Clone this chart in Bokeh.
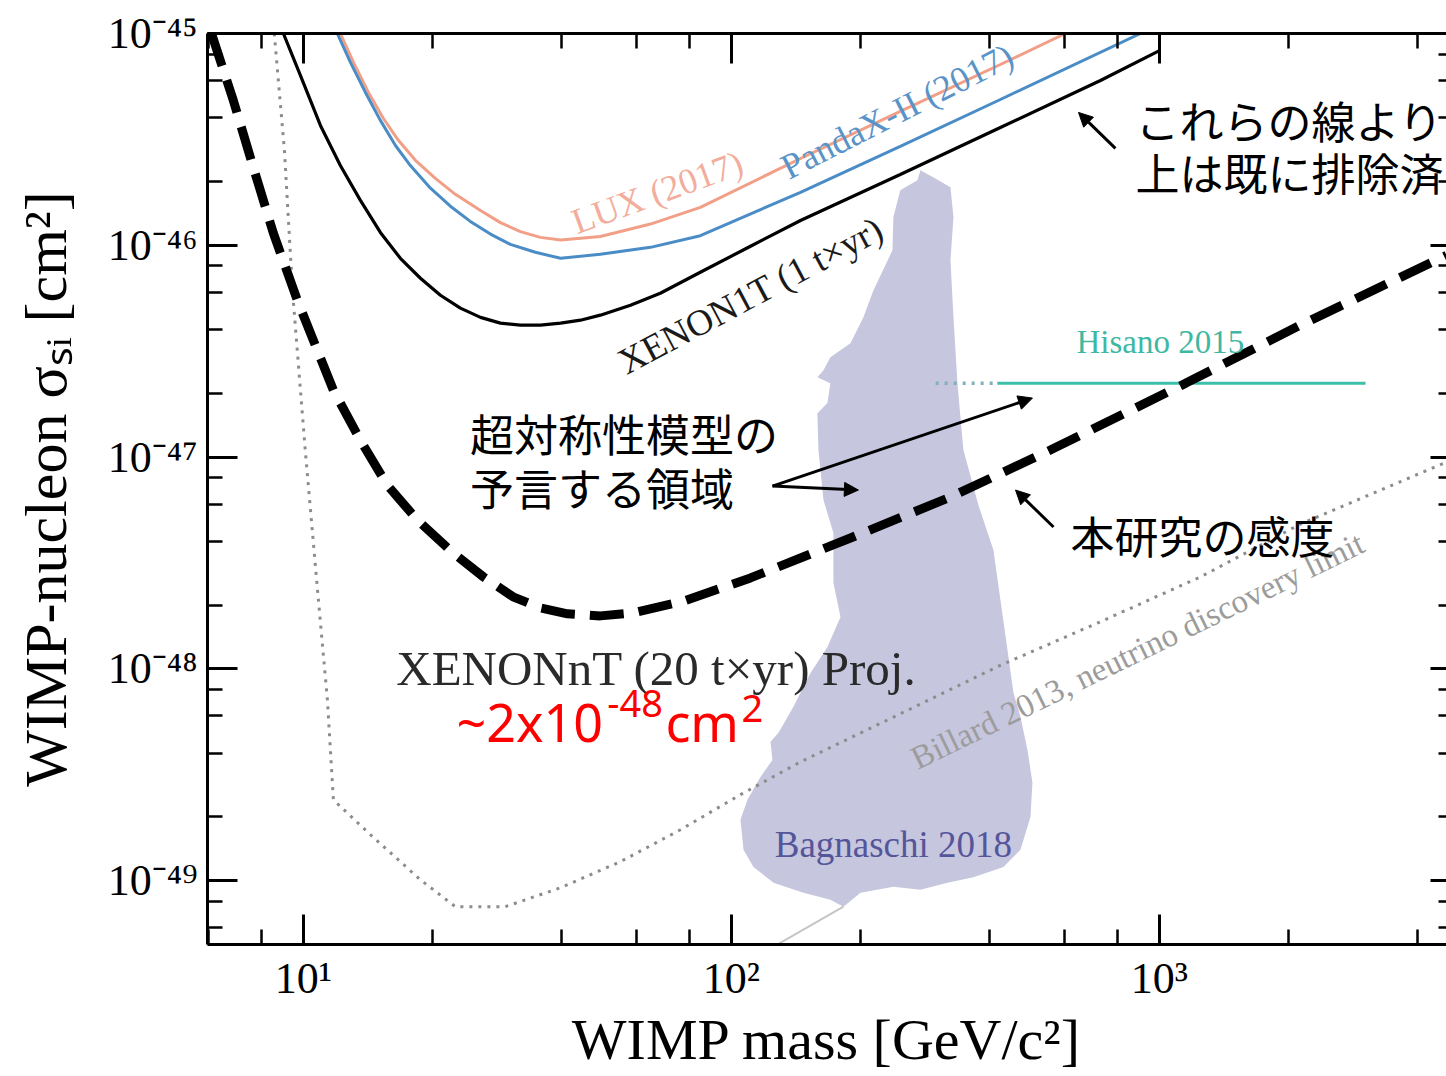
from bokeh.plotting import figure
from bokeh.models import LogAxis, LogTicker, CustomJSTickFormatter, Arrow, NormalHead, Range1d
from bokeh.core.properties import value
from bokeh.embed import file_html
from bokeh.resources import INLINE

SERIF = "Liberation Serif"
JP = "Noto Sans CJK JP"
SANS = "Noto Sans"

# ---------------- data (WIMP mass [GeV], cross-section [cm^2]) ----------------
X_MIN, X_MAX = 5.97, 4684.0
Y_MIN, Y_MAX = 5.0e-50, 1.0e-45

lux_mass = [12.2, 13.09, 14.19, 15.38, 16.67, 18.27, 20.34, 22.65, 25.93, 28.86, 32.14, 35.8, 39.9,
            49.4, 64.7, 84.6, 145, 248, 425, 603]
lux_sigma = [1.0e-45, 7.30e-46, 5.27e-46, 3.97e-46, 3.13e-46, 2.52e-46, 2.07e-46, 1.74e-46,
             1.46e-46, 1.28e-46, 1.16e-46, 1.09e-46, 1.06e-46, 1.10e-46, 1.26e-46, 1.51e-46,
             2.57e-46, 4.29e-46, 7.14e-46, 1.0e-45]

pandax_mass = [12.0, 12.88, 13.96, 15.13, 16.41, 17.78, 19.81, 22.05, 24.5, 27.35, 30.45, 34.83,
               39.9, 49.4, 64.7, 84.6, 145, 248, 425, 903]
pandax_sigma = [1.0e-45, 7.30e-46, 5.27e-46, 3.89e-46, 2.96e-46, 2.38e-46, 1.86e-46, 1.53e-46,
                1.30e-46, 1.13e-46, 1.01e-46, 9.27e-47, 8.68e-47, 9.07e-47, 9.78e-47, 1.11e-46,
                1.78e-46, 2.93e-46, 4.88e-46, 1.0e-45]

xenon1t_mass = [8.98, 9.84, 10.96, 12.2, 13.59, 15.13, 16.85, 18.77, 20.9, 23.27, 25.93, 28.86,
                32.14, 35.8, 39.9, 44.4, 49.4, 58.1, 68.2, 84.6, 110.8, 145, 248, 425, 728, 1000]
xenon1t_sigma = [1.0e-45, 6.34e-46, 3.68e-46, 2.38e-46, 1.63e-46, 1.15e-46, 8.68e-47, 6.99e-47,
                 5.81e-47, 5.05e-47, 4.57e-47, 4.29e-47, 4.2e-47, 4.2e-47, 4.29e-47, 4.43e-47,
                 4.68e-47, 5.21e-47, 5.94e-47, 7.46e-47, 9.9e-47, 1.31e-46, 2.16e-46, 3.6e-46,
                 6.0e-46, 8.3e-46]

xenonnt_mass = [6.10, 6.86, 7.64, 8.51, 9.68, 11.75, 13.59, 15.7, 18.46, 22.41, 26.34, 30.9, 35.8,
                41.4, 49.4, 59.0, 77.3, 110.8, 189.7, 324.9, 556, 1150, 2135, 4684]
xenonnt_sigma = [1.0e-45, 4.83e-46, 2.33e-46, 1.14e-46, 5.50e-47, 2.07e-47, 1.20e-47, 7.38e-48,
                 5.05e-48, 3.52e-48, 2.72e-48, 2.19e-48, 1.94e-48, 1.82e-48, 1.78e-48, 1.84e-48,
                 2.09e-48, 2.69e-48, 4.15e-48, 6.48e-48, 1.08e-47, 2.23e-47, 4.2e-47, 8.97e-47]

nu_mass = [8.55, 9.03, 9.43, 10.1, 10.84, 11.38, 11.75, 14.34, 18.77, 22.65, 29.6, 39.9, 55.0,
           76.0, 105, 145, 248, 425, 728, 1247, 2135, 4684]
nu_sigma = [1.0e-45, 2.81e-46, 6.13e-47, 1.08e-47, 2.12e-48, 7.14e-49, 2.41e-49, 1.65e-49,
            1.01e-49, 7.54e-50, 7.54e-50, 9.27e-50, 1.23e-49, 1.74e-49, 2.55e-49, 3.64e-49,
            6.14e-49, 1.04e-48, 1.67e-48, 2.72e-48, 4.83e-48, 9.47e-48]

hisano_mass = [418, 3030]
hisano_sigma = [2.23e-47, 2.23e-47]
hisano_ext_mass = [300, 418]
hisano_ext_sigma = [2.23e-47, 2.23e-47]

bag_mass = [276.4, 299.6, 324.9, 330.2, 324.9, 330.2, 337.3, 348.3, 377.6, 409.3, 425.0, 441.5,
            456.0, 473.4, 491.6, 505.0, 499.6, 473.4, 432.0, 367.6, 319.7, 276.4, 239.0, 200.2,
            182.7, 170.3, 147.3, 125.4, 112.6, 106.7, 105.0, 109.0, 116.9, 124.7, 123.4, 128.8,
            139.6, 153.0, 167.6, 179.8, 173.1, 173.1, 164.1, 159.7, 158.8, 167.6, 170.3, 158.8,
            164.1, 170.3, 189.7, 203.4, 214.7, 237.8, 239.0, 248.0, 272.0]
bag_sigma = [2.26e-46, 2.07e-46, 1.88e-46, 1.36e-46, 8.49e-47, 4.57e-47, 2.23e-47, 1.08e-47,
             5.94e-48, 3.64e-48, 2.12e-48, 1.23e-48, 7.70e-49, 5.94e-49, 4.15e-49, 2.90e-49,
             2.00e-49, 1.40e-49, 1.16e-49, 1.04e-49, 9.78e-50, 9.07e-50, 9.37e-50, 8.78e-50,
             7.54e-50, 8.14e-50, 8.78e-50, 9.78e-50, 1.16e-49, 1.40e-49, 1.94e-49, 2.41e-49,
             3.09e-49, 3.72e-49, 4.53e-49, 4.99e-49, 6.62e-49, 9.57e-49, 1.27e-48, 1.76e-48,
             2.55e-48, 4.38e-48, 6.27e-48, 1.08e-47, 1.61e-47, 1.80e-47, 2.23e-47, 2.38e-47,
             2.57e-47, 2.96e-47, 3.45e-47, 4.57e-47, 6.13e-47, 9.47e-47, 1.36e-46, 1.82e-46,
             2.03e-46]
bag_tail_mass = [182.7, 128.0]
bag_tail_sigma = [7.54e-50, 5.0e-50]

# annotation arrows: start (mass, sigma) -> end (mass, sigma)
arrow_x0 = [789, 124.7, 124.7, 565.5]
arrow_y0 = [2.87e-46, 7.30e-48, 7.30e-48, 4.68e-48]
arrow_x1 = [647, 505, 198, 461]
arrow_y1 = [4.24e-46, 1.90e-47, 6.99e-48, 6.99e-48]

# ---------------- figure ----------------
p = figure(width=1446, height=1076, x_axis_type="log", y_axis_type="log",
           x_range=Range1d(X_MIN, X_MAX), y_range=Range1d(Y_MIN, Y_MAX),
           output_backend="svg", toolbar_location=None,
           min_border_left=207, min_border_right=0, min_border_top=33, min_border_bottom=132)
p.outline_line_color = None
p.grid.visible = False
p.background_fill_color = "white"
p.border_fill_color = "white"

SUP_JS = """
const m = {"-": "\u207b", "0": "\u2070", "1": "\u00b9", "2": "\u00b2", "3": "\u00b3",
           "4": "\u2074", "5": "\u2075", "6": "\u2076", "7": "\u2077", "8": "\u2078", "9": "\u2079"};
const e = Math.round(Math.log10(tick));
let s = "";
for (const c of String(e)) { s += m[c]; }
return "10" + s;
"""


def style_axis(ax, major_in=30, minor_in=15, line=True):
    ax.ticker = LogTicker()
    ax.major_tick_in = major_in
    ax.major_tick_out = 0
    ax.minor_tick_in = minor_in
    ax.minor_tick_out = 0
    ax.major_tick_line_width = 3
    ax.minor_tick_line_width = 2.5
    ax.major_tick_line_color = "black"
    ax.minor_tick_line_color = "black"
    ax.axis_line_width = 3
    ax.axis_line_color = "black" if line else None


xb = p.below[0]
style_axis(xb)
xb.formatter = CustomJSTickFormatter(code=SUP_JS)
xb.major_label_text_font = SERIF
xb.major_label_text_font_size = "44px"
xb.major_label_text_color = "black"
xb.major_label_standoff = 9
xb.axis_label = "WIMP mass [GeV/c²]"
xb.axis_label_text_font = SERIF
xb.axis_label_text_font_size = "58px"
xb.axis_label_text_font_style = "normal"
xb.axis_label_text_color = "black"
xb.axis_label_standoff = 1

yl = p.left[0]
style_axis(yl)
yl.formatter = CustomJSTickFormatter(code=SUP_JS)
yl.major_label_text_font = SERIF
yl.major_label_text_font_size = "44px"
yl.major_label_text_color = "black"
yl.major_label_standoff = 10
yl.axis_label = "WIMP-nucleon σₛᵢ [cm²]"
yl.axis_label_text_font = SERIF
yl.axis_label_text_font_size = "60px"
yl.axis_label_text_font_style = "normal"
yl.axis_label_text_color = "black"
yl.axis_label_standoff = 26

top = LogAxis(formatter=CustomJSTickFormatter(code="return ''"))
style_axis(top)
top.major_label_standoff = 0
top.major_label_text_font_size = "0px"
p.add_layout(top, "above")

right = LogAxis(formatter=CustomJSTickFormatter(code="return ''"))
style_axis(right, major_in=16, minor_in=8, line=False)
right.major_label_standoff = 0
right.major_label_text_font_size = "0px"
p.add_layout(right, "right")

# ---------------- glyphs ----------------
p.patch(bag_mass, bag_sigma, fill_color="#c6c6df", line_color=None)
p.line(bag_tail_mass, bag_tail_sigma, line_color="#c4c4c4", line_width=2)

p.line(lux_mass, lux_sigma, line_color="#f29f87", line_width=3)
p.line(pandax_mass, pandax_sigma, line_color="#4a8cc6", line_width=3)
p.line(xenon1t_mass, xenon1t_sigma, line_color="black", line_width=3.2)
p.line(nu_mass, nu_sigma, line_color="#8c8c8c", line_width=3, line_dash="3 6")
p.line(hisano_ext_mass, hisano_ext_sigma, line_color="#7fb0bc", line_width=3.5, line_dash="3 6")
p.line(hisano_mass, hisano_sigma, line_color="#3dbfa9", line_width=3)
p.line(xenonnt_mass, xenonnt_sigma, line_color="black", line_width=9, line_dash="34 15")

# ---------------- labels ----------------
def txt(x, y, s, font, size, color, angle=0.0, align="center", baseline="middle", style="normal"):
    p.text(x=[x], y=[y], text=[s], angle=angle, text_font=value(font), text_font_size=size,
           text_color=color, text_align=align, text_baseline=baseline, text_font_style=style)

DEG = 3.141592653589793 / 180
txt(67.1, 1.78e-46, "LUX (2017)", SERIF, "36px", "#f2ad9c", angle=20 * DEG)
txt(244, 4.29e-46, "PandaX-II (2017)", SERIF, "36px", "#5a93c8", angle=27 * DEG)
txt(110.8, 5.81e-47, "XENON1T (1 t×yr)", SERIF, "37px", "#1a1a1a", angle=28 * DEG)
txt(66.8, 1.01e-48, "XENONnT (20 t×yr) Proj.", SERIF, "49px", "#2a2a2a")
txt(239.0, 1.48e-49, "Bagnaschi 2018", SERIF, "37px", "#55559a")
txt(888.6, 1.22e-48, "Billard 2013, neutrino discovery limit", SERIF, "33px", "#9c9c9c",
    angle=26 * DEG)
txt(1005, 3.49e-47, "Hisano 2015", SERIF, "33px", "#3fb8a3")

# red sensitivity note: "~2x10" + superscript "-48" + "cm" + superscript "2"
txt(22.78, 5.62e-49, "~2x10", SANS, "52px", "#ff0000", align="left")
txt(51.3, 6.84e-49, "-48", SANS, "38px", "#ff0000", align="left")
txt(70.1, 5.62e-49, "cm", SANS, "52px", "#ff0000", align="left")
txt(105.5, 6.48e-49, "2", SANS, "38px", "#ff0000", align="left")

txt(879, 3.89e-46, "これらの線より", JP, "44px", "black", align="left")
txt(879, 2.21e-46, "上は既に排除済", JP, "44px", "black", align="left")
txt(24.5, 1.30e-47, "超対称性模型の", JP, "44px", "black", align="left")
txt(24.5, 7.22e-48, "予言する領域", JP, "44px", "black", align="left")
txt(619.4, 4.29e-48, "本研究の感度", JP, "44px", "black", align="left")

for xs, ys, xe, ye in zip(arrow_x0, arrow_y0, arrow_x1, arrow_y1):
    p.add_layout(Arrow(end=NormalHead(size=14, fill_color="black", line_color="black"),
                       x_start=xs, y_start=ys, x_end=xe, y_end=ye,
                       line_color="black", line_width=3))

open("out.html", "w").write(file_html(p, INLINE))
